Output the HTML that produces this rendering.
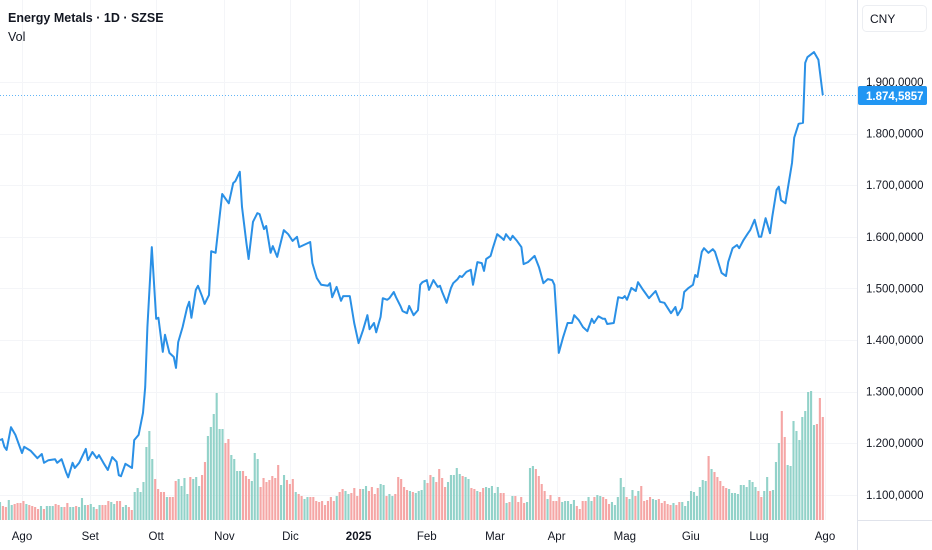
<!DOCTYPE html>
<html><head><meta charset="utf-8"><style>
html,body{margin:0;padding:0;background:#fff;overflow:hidden}
body{width:932px;height:550px;position:relative;font-family:"Liberation Sans",sans-serif;color:#131722}
svg{position:absolute;left:0;top:0}
</style></head><body>
<svg id="chart" width="932" height="550" viewBox="0 0 932 550" xmlns="http://www.w3.org/2000/svg">
<g id="grid"></g>
<g id="vol"></g>
<g id="line"></g>
<line x1="857.5" y1="0" x2="857.5" y2="550" stroke="#e0e3eb"/>
<line x1="857.5" y1="520.5" x2="932" y2="520.5" stroke="#e0e3eb"/>
<g id="yaxis"></g>
<g id="xaxis"></g>
<text x="8" y="22" font-size="12.5" font-weight="bold" fill="#131722">Energy Metals · 1D · SZSE</text>
<text x="8" y="41" font-size="12.5" fill="#131722">Vol</text>
<rect x="862.5" y="5.5" width="64" height="26" rx="4" fill="#fff" stroke="#eceef2"/>
<text x="870" y="23" font-size="12" fill="#131722">CNY</text>
</svg>
<script>
// price data: calendar day offset from 2024-08-01, close value in thousands
const priceDays=[-10,-9,-8,-7,-5,-3,0,1,4,7,9,10,12,15,16,18,20,21,23,24,26,29,30,32,34,35,37,39,41,43,44,45,47,50,51,53,55,56,57,59,61,62,64,65,67,69,70,71,73,75,76,77,79,80,82,83,85,86,88,90,91,94,96,97,99,100,102,103,105,107,108,110,111,113,114,116,119,121,123,125,126,131,132,134,136,139,140,141,143,145,146,149,151,153,155,157,158,160,161,163,164,166,167,169,170,172,173,175,176,178,180,181,182,184,185,187,189,190,191,193,195,196,198,199,200,202,204,205,207,209,210,211,213,214,216,218,219,220,222,223,225,227,228,230,233,235,237,239,241,242,244,246,248,250,251,253,255,257,259,260,262,264,265,266,269,271,273,274,275,277,279,280,282,283,285,288,290,292,295,297,298,300,301,303,305,306,307,309,310,312,314,315,318,320,321,323,325,326,328,330,331,333,335,336,338,340,341,343,344,345,347,348,350,351,353,355,356,357,360,362,364];
const priceValues=[1206,1208,1193,1187,1231,1216,1181,1193,1185,1171,1179,1162,1167,1169,1162,1169,1144,1134,1162,1152,1162,1189,1167,1183,1171,1177,1162,1148,1173,1164,1138,1136,1160,1152,1206,1216,1259,1309,1425,1580,1441,1443,1377,1410,1375,1367,1346,1396,1425,1462,1474,1443,1497,1505,1483,1470,1487,1572,1569,1646,1683,1665,1704,1708,1726,1658,1588,1557,1629,1646,1644,1615,1621,1569,1582,1561,1613,1605,1592,1600,1580,1590,1549,1520,1507,1505,1510,1483,1503,1476,1485,1485,1433,1394,1419,1448,1421,1433,1415,1445,1481,1478,1481,1493,1483,1466,1456,1452,1466,1448,1458,1507,1512,1516,1497,1516,1503,1505,1493,1472,1501,1510,1518,1524,1522,1532,1536,1507,1551,1549,1534,1557,1563,1578,1605,1598,1594,1605,1594,1602,1592,1580,1547,1551,1563,1541,1510,1518,1516,1507,1375,1406,1433,1433,1448,1439,1425,1417,1441,1433,1446,1441,1441,1431,1433,1483,1481,1485,1478,1501,1495,1512,1499,1493,1481,1495,1474,1472,1452,1464,1448,1462,1493,1501,1507,1526,1522,1571,1578,1569,1576,1571,1530,1524,1551,1578,1584,1578,1594,1607,1613,1633,1600,1600,1636,1607,1638,1691,1697,1671,1665,1691,1743,1792,1819,1821,1937,1948,1958,1943,1874.5857];
const volumeValues=[18,14,13,20,15,16,17,17,19,16,15,14,13,11,14,11,14,14,14,16,15,13,13,17,13,13,14,13,22,15,15,16,13,11,15,15,15,19,18,16,19,19,13,15,13,10,28,32,28,38,73,89,61,41,31,28,28,23,23,23,39,41,34,42,26,43,41,43,34,45,58,84,93,106,127,91,91,77,81,65,61,49,49,49,44,41,39,67,61,33,42,38,40,44,42,55,35,45,40,36,41,28,26,24,21,23,23,23,19,18,19,15,19,23,19,24,28,31,29,26,27,32,24,31,31,34,29,33,26,32,36,35,24,26,24,26,43,41,33,30,29,28,27,29,30,40,37,45,43,38,51,42,33,38,45,45,52,46,44,43,41,32,31,29,28,32,33,32,34,27,33,27,27,17,18,24,24,18,23,17,18,52,54,51,44,36,29,21,25,19,19,23,18,19,19,16,20,14,11,19,19,23,19,23,25,24,23,21,16,18,15,23,42,33,23,21,30,24,29,34,19,20,23,21,20,21,17,19,16,15,17,15,18,18,14,19,29,28,24,33,40,39,64,51,48,43,39,34,32,31,27,27,26,35,35,33,40,38,33,29,23,29,43,29,30,58,77,109,83,55,54,99,89,80,103,109,128,129,95,96,122,103];
const priceTicks=[1100,1200,1300,1400,1500,1600,1700,1800,1900];
const priceTickLabels=["1.100,0000","1.200,0000","1.300,0000","1.400,0000","1.500,0000","1.600,0000","1.700,0000","1.800,0000","1.900,0000"];
const monthDays=[0,31,61,92,122,153,184,215,243,274,304,335,365];
const monthLabels=["Ago","Set","Ott","Nov","Dic","2025","Feb","Mar","Apr","Mag","Giu","Lug","Ago"];
const lastPrice=1874.5857;
const lastPriceLabel="1.874,5857";

const NS="http://www.w3.org/2000/svg";
function mk(tag,attrs,parent){const e=document.createElementNS(NS,tag);for(const k in attrs)e.setAttribute(k,attrs[k]);parent.appendChild(e);return e;}
const xScale=d=>22+d*(803/365);
const yScale=v=>82+(1900-v)*0.516;
const volBase=520, volPx=1.0;

const grid=document.getElementById('grid');
priceTicks.forEach(t=>{const l=mk('line',{x1:0,x2:857,y1:Math.round(yScale(t))+0.5,y2:Math.round(yScale(t))+0.5,stroke:'#f4f5f8'},grid);

});
monthDays.forEach(d=>{const x=Math.round(xScale(d))+0.5;const l=mk('line',{x1:x,x2:x,y1:0,y2:520,stroke:'#f4f5f8'},grid);

});

function priceAt(d){if(d<=priceDays[0])return priceValues[0];for(let i=1;i<priceDays.length;i++){if(d<=priceDays[i]){const a=priceDays[i-1],b=priceDays[i];const t=b===a?1:(d-a)/(b-a);return priceValues[i-1]+t*(priceValues[i]-priceValues[i-1]);}}return priceValues[priceValues.length-1];}

const vol=document.getElementById('vol');
const n=volumeValues.length;const d0=-10,d1=364;const step=(d1-d0)/(n-1);
const bw=Math.max(1.6,(xScale(d1)-xScale(d0))/(n-1)*0.72);
volumeValues.forEach((v,i)=>{const d=d0+i*step;const up=priceAt(d)>=priceAt(d-step);const x=xScale(d);const h=v*volPx;
const r=mk('rect',{x:(x-bw/2).toFixed(2),y:(volBase-h).toFixed(2),width:bw.toFixed(2),height:h.toFixed(2),fill:up?'#92d2c9':'#f5a6a5'},vol);

});

const lg=document.getElementById('line');
const ly=Math.round(yScale(lastPrice))+0.5;
const dl=mk('line',{x1:0,x2:857,y1:ly,y2:ly,stroke:'#2196f3','stroke-width':1,'stroke-dasharray':'1 2',opacity:0.7},lg);


const pts=priceDays.map((d,i)=>xScale(d).toFixed(1)+','+yScale(priceValues[i]).toFixed(1)).join(' ');
const pl=mk('polyline',{points:pts,fill:'none',stroke:'#2a90e6','stroke-width':2,'stroke-linejoin':'round'},lg);



const ya=document.getElementById('yaxis');
priceTicks.forEach((t,i)=>{const tx=mk('text',{x:866,y:(yScale(t)+4).toFixed(1),'font-size':11.5,fill:'#131722'},ya);tx.textContent=priceTickLabels[i];

});
const badge=mk('rect',{x:858,y:ly-9.5,width:69,height:19,rx:2,fill:'#2196f3'},ya);


const bt=mk('text',{x:866,y:ly+4.5,'font-size':11.5,'font-weight':'bold',fill:'#fff'},ya);bt.textContent=lastPriceLabel;



const xa=document.getElementById('xaxis');
monthDays.forEach((d,i)=>{const t=mk('text',{x:xScale(d).toFixed(1),y:540,'font-size':11.5,'text-anchor':'middle',fill:'#131722','font-weight':monthLabels[i]==='2025'?'bold':'normal'},xa);t.textContent=monthLabels[i];

});
</script>
</body></html>
